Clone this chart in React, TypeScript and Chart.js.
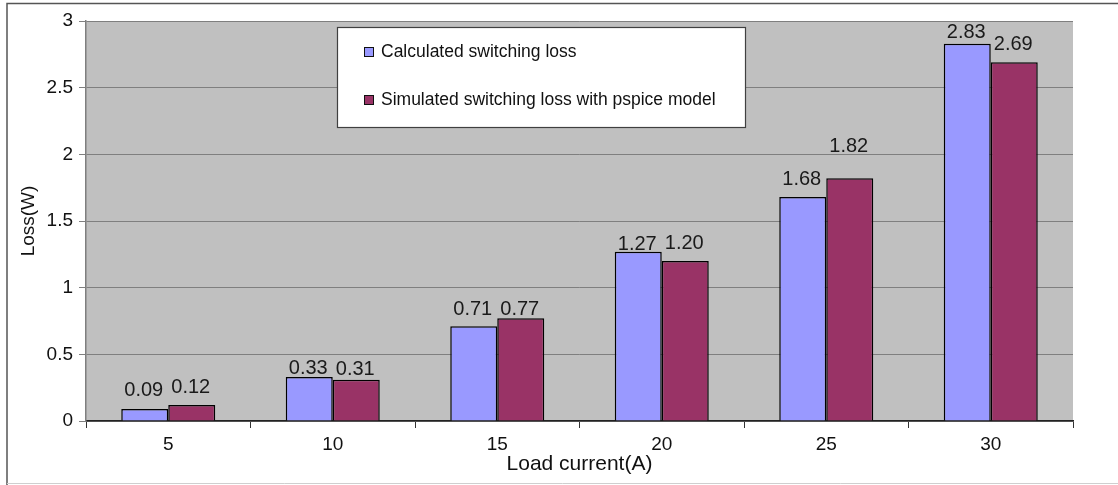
import React, { useEffect, useRef } from "react";
import { Chart, registerables } from "chart.js";

Chart.register(...registerables);

// Switching loss vs. load current
const loadCurrents = ["5", "10", "15", "20", "25", "30"];
const calculatedLoss = [0.09, 0.33, 0.71, 1.27, 1.68, 2.83];
const simulatedLoss = [0.12, 0.31, 0.77, 1.2, 1.82, 2.69];
const seriesNames = [
  "Calculated switching loss",
  "Simulated switching loss with pspice model",
];
const yTicks = [0, 0.5, 1, 1.5, 2, 2.5, 3];

const FONT = "'Liberation Sans', Arial, sans-serif";
const BLUE = "#9999ff";
const PLUM = "#993366";

// Grey plot backdrop and the thin frame around the figure
const framePlugin = {
  id: "frame",
  beforeDraw(chart: any) {
    const { ctx, chartArea } = chart;
    ctx.save();
    ctx.fillStyle = "#ffffff";
    ctx.fillRect(0, 0, chart.width, chart.height);
    ctx.fillStyle = "#c0c0c0";
    ctx.fillRect(
      chartArea.left,
      chartArea.top,
      chartArea.right - chartArea.left,
      chartArea.bottom - chartArea.top
    );
    ctx.strokeStyle = "#555555";
    ctx.lineWidth = 1.5;
    ctx.beginPath();
    ctx.moveTo(7, chart.height);
    ctx.lineTo(7, 3.5);
    ctx.lineTo(chart.width, 3.5);
    ctx.stroke();
    ctx.strokeStyle = "#cfcfcf";
    ctx.lineWidth = 1;
    ctx.beginPath();
    ctx.moveTo(7, 483.5);
    ctx.lineTo(chart.width, 483.5);
    ctx.stroke();
    ctx.restore();
  },
};

// Value labels above each bar (pixel lift above the bar top, per series/bar)
const valueLabelPlugin = {
  id: "valueLabels",
  afterDatasetsDraw(chart: any, _args: any, opts: any) {
    const { ctx } = chart;
    const lifts: number[][] = opts.lifts || [];
    ctx.save();
    ctx.font = `20px ${FONT}`;
    ctx.fillStyle = "#1a1a1a";
    ctx.textAlign = "center";
    ctx.textBaseline = "alphabetic";
    chart.data.datasets.forEach((ds: any, di: number) => {
      const meta = chart.getDatasetMeta(di);
      meta.data.forEach((el: any, i: number) => {
        const v = ds.data[i] as number;
        const lift = (lifts[di] && lifts[di][i]) ?? 6;
        ctx.fillText(v.toFixed(2), el.x - 1, el.y - lift);
      });
    });
    ctx.restore();
  },
};

// Boxed legend sitting inside the plot area
const boxLegendPlugin = {
  id: "boxLegend",
  afterDraw(chart: any) {
    const { ctx } = chart;
    const x = 337.5;
    const y = 27.5;
    const w = 408;
    const h = 100;
    ctx.save();
    ctx.fillStyle = "#ffffff";
    ctx.fillRect(x, y, w, h);
    ctx.strokeStyle = "#404040";
    ctx.lineWidth = 1.2;
    ctx.strokeRect(x, y, w, h);
    ctx.font = `17.5px ${FONT}`;
    ctx.textBaseline = "middle";
    ctx.textAlign = "left";
    const rows = [52, 100];
    chart.data.datasets.forEach((ds: any, di: number) => {
      const cy = rows[di];
      ctx.fillStyle = ds.backgroundColor;
      ctx.fillRect(364.5, cy - 4.5, 9, 9);
      ctx.strokeStyle = "#111111";
      ctx.lineWidth = 1;
      ctx.strokeRect(364.5, cy - 4.5, 9, 9);
      ctx.fillStyle = "#111111";
      ctx.fillText(ds.label, 381, cy);
    });
    ctx.restore();
  },
};

export default function App() {
  const canvasRef = useRef<HTMLCanvasElement | null>(null);

  useEffect(() => {
    if (!canvasRef.current) return;
    Chart.defaults.font.family = FONT;
    Chart.defaults.color = "#111111";

    const chart = new Chart(canvasRef.current, {
      type: "bar",
      data: {
        labels: loadCurrents,
        datasets: [
          {
            label: seriesNames[0],
            data: calculatedLoss,
            backgroundColor: BLUE,
            borderColor: "#000000",
            borderWidth: 1.5,
            categoryPercentage: 2 / 3.5,
            barPercentage: 1,
          },
          {
            label: seriesNames[1],
            data: simulatedLoss,
            backgroundColor: PLUM,
            borderColor: "#000000",
            borderWidth: 1.5,
            categoryPercentage: 2 / 3.5,
            barPercentage: 1,
          },
        ],
      },
      plugins: [framePlugin, valueLabelPlugin, boxLegendPlugin],
      options: {
        animation: false,
        responsive: false,
        maintainAspectRatio: false,
        layout: { padding: { left: 0, top: 21, right: 45, bottom: 0 } },
        plugins: {
          legend: { display: false },
          tooltip: { enabled: false },
          valueLabels: {
            lifts: [
              [13, 3, 11, 2, 12, 6],
              [12, 5, 3, 12, 26, 12],
            ],
          },
        } as any,
        scales: {
          x: {
            grid: {
              offset: true,
              drawOnChartArea: false,
              color: "#333333",
              tickLength: 7,
            },
            border: { color: "#222222", width: 1.5 },
            ticks: { font: { size: 19 }, padding: 5, color: "#111111" },
            title: {
              display: true,
              text: "Load current(A)",
              font: { size: 21 },
              color: "#111111",
              padding: { top: 0, bottom: 8 },
            },
            afterFit: (scale: any) => {
              scale.height = 64;
            },
          },
          y: {
            min: 0,
            max: 3,
            afterBuildTicks: (scale: any) => {
              scale.ticks = yTicks.map((v) => ({ value: v }));
            },
            grid: { color: "#7f7f7f", tickLength: 7, lineWidth: 1 },
            border: { color: "#7f7f7f", width: 1.5 },
            ticks: {
              font: { size: 19 },
              padding: 6,
              color: "#111111",
              callback: (value: any) => String(Number(value)),
            },
            title: {
              display: true,
              text: "Loss(W)",
              font: { size: 19 },
              color: "#111111",
              padding: { top: 17, bottom: 0 },
            },
            afterFit: (scale: any) => {
              scale.width = 86;
            },
          },
        },
      },
    });
    return () => chart.destroy();
  }, []);

  return (
    <div
      style={{
        position: "fixed",
        left: 0,
        top: 0,
        width: 1118,
        height: 485,
        background: "#ffffff",
      }}
    >
      <canvas ref={canvasRef} width={1118} height={485} />
    </div>
  );
}
